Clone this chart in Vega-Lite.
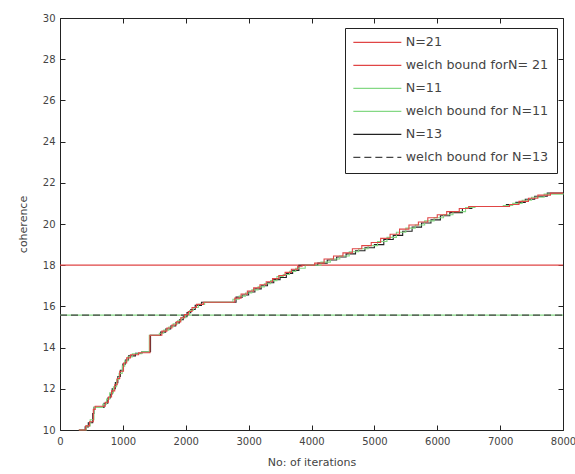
{
  "$schema": "https://vega.github.io/schema/vega-lite/v6.json",
  "width": 503,
  "height": 412,
  "autosize": "none",
  "padding": {"left": 60, "top": 18, "right": 12, "bottom": 44},
  "background": "white",
  "config": {
    "view": {"stroke": "#222", "strokeWidth": 1},
    "font": "DejaVu Sans",
    "axis": {"grid": false, "domain": false, "tickColor": "#222", "tickSize": -5, "labelColor": "#444", "labelFontSize": 10, "titleFontSize": 11, "titleFontWeight": "normal", "titleColor": "#444", "labelFont": "DejaVu Sans", "titleFont": "DejaVu Sans", "labelFlush": false, "labelOverlap": false}
  },
  "datasets": {
    "curves": [
      {"series": "N=13", "iter": 300, "value": 10.0},
      {"series": "N=13", "iter": 400, "value": 10.15},
      {"series": "N=13", "iter": 450, "value": 10.35},
      {"series": "N=13", "iter": 520, "value": 10.8},
      {"series": "N=13", "iter": 540, "value": 11.1},
      {"series": "N=13", "iter": 700, "value": 11.3},
      {"series": "N=13", "iter": 760, "value": 11.55},
      {"series": "N=13", "iter": 800, "value": 11.75},
      {"series": "N=13", "iter": 830, "value": 12.0},
      {"series": "N=13", "iter": 880, "value": 12.3},
      {"series": "N=13", "iter": 920, "value": 12.6},
      {"series": "N=13", "iter": 960, "value": 12.9},
      {"series": "N=13", "iter": 1000, "value": 13.2},
      {"series": "N=13", "iter": 1040, "value": 13.4},
      {"series": "N=13", "iter": 1090, "value": 13.6},
      {"series": "N=13", "iter": 1200, "value": 13.72},
      {"series": "N=13", "iter": 1300, "value": 13.8},
      {"series": "N=13", "iter": 1440, "value": 14.6},
      {"series": "N=13", "iter": 1600, "value": 14.75},
      {"series": "N=13", "iter": 1680, "value": 14.9},
      {"series": "N=13", "iter": 1760, "value": 15.05},
      {"series": "N=13", "iter": 1840, "value": 15.2},
      {"series": "N=13", "iter": 1900, "value": 15.35},
      {"series": "N=13", "iter": 1960, "value": 15.5},
      {"series": "N=13", "iter": 2020, "value": 15.7},
      {"series": "N=13", "iter": 2080, "value": 15.85},
      {"series": "N=13", "iter": 2150, "value": 16.05},
      {"series": "N=13", "iter": 2250, "value": 16.2},
      {"series": "N=13", "iter": 2800, "value": 16.45},
      {"series": "N=13", "iter": 2900, "value": 16.55},
      {"series": "N=13", "iter": 3000, "value": 16.7},
      {"series": "N=13", "iter": 3100, "value": 16.85},
      {"series": "N=13", "iter": 3200, "value": 17.0},
      {"series": "N=13", "iter": 3300, "value": 17.15},
      {"series": "N=13", "iter": 3400, "value": 17.3},
      {"series": "N=13", "iter": 3500, "value": 17.4},
      {"series": "N=13", "iter": 3600, "value": 17.6},
      {"series": "N=13", "iter": 3700, "value": 17.75},
      {"series": "N=13", "iter": 3800, "value": 18.0},
      {"series": "N=13", "iter": 4100, "value": 18.1},
      {"series": "N=13", "iter": 4250, "value": 18.25},
      {"series": "N=13", "iter": 4400, "value": 18.4},
      {"series": "N=13", "iter": 4550, "value": 18.55},
      {"series": "N=13", "iter": 4700, "value": 18.7},
      {"series": "N=13", "iter": 4850, "value": 18.85},
      {"series": "N=13", "iter": 5000, "value": 19.0},
      {"series": "N=13", "iter": 5150, "value": 19.25},
      {"series": "N=13", "iter": 5300, "value": 19.45},
      {"series": "N=13", "iter": 5450, "value": 19.65},
      {"series": "N=13", "iter": 5600, "value": 19.85},
      {"series": "N=13", "iter": 5750, "value": 20.05},
      {"series": "N=13", "iter": 5900, "value": 20.2},
      {"series": "N=13", "iter": 6050, "value": 20.4},
      {"series": "N=13", "iter": 6200, "value": 20.55},
      {"series": "N=13", "iter": 6400, "value": 20.75},
      {"series": "N=13", "iter": 6550, "value": 20.85},
      {"series": "N=13", "iter": 7100, "value": 20.95},
      {"series": "N=13", "iter": 7250, "value": 21.05},
      {"series": "N=13", "iter": 7400, "value": 21.2},
      {"series": "N=13", "iter": 7550, "value": 21.35},
      {"series": "N=13", "iter": 7750, "value": 21.5},
      {"series": "N=13", "iter": 8000, "value": 21.5},

      {"series": "N=11", "iter": 300, "value": 10.0},
      {"series": "N=11", "iter": 420, "value": 10.2},
      {"series": "N=11", "iter": 480, "value": 10.5},
      {"series": "N=11", "iter": 540, "value": 11.1},
      {"series": "N=11", "iter": 680, "value": 11.25},
      {"series": "N=11", "iter": 740, "value": 11.5},
      {"series": "N=11", "iter": 790, "value": 11.8},
      {"series": "N=11", "iter": 850, "value": 12.1},
      {"series": "N=11", "iter": 900, "value": 12.45},
      {"series": "N=11", "iter": 940, "value": 12.75},
      {"series": "N=11", "iter": 990, "value": 13.1},
      {"series": "N=11", "iter": 1030, "value": 13.35},
      {"series": "N=11", "iter": 1080, "value": 13.55},
      {"series": "N=11", "iter": 1150, "value": 13.7},
      {"series": "N=11", "iter": 1300, "value": 13.8},
      {"series": "N=11", "iter": 1420, "value": 14.6},
      {"series": "N=11", "iter": 1580, "value": 14.7},
      {"series": "N=11", "iter": 1650, "value": 14.85},
      {"series": "N=11", "iter": 1730, "value": 15.0},
      {"series": "N=11", "iter": 1800, "value": 15.15},
      {"series": "N=11", "iter": 1870, "value": 15.3},
      {"series": "N=11", "iter": 1930, "value": 15.45},
      {"series": "N=11", "iter": 2000, "value": 15.6},
      {"series": "N=11", "iter": 2060, "value": 15.8},
      {"series": "N=11", "iter": 2120, "value": 15.95},
      {"series": "N=11", "iter": 2200, "value": 16.1},
      {"series": "N=11", "iter": 2300, "value": 16.2},
      {"series": "N=11", "iter": 2750, "value": 16.35},
      {"series": "N=11", "iter": 2850, "value": 16.5},
      {"series": "N=11", "iter": 2950, "value": 16.65},
      {"series": "N=11", "iter": 3050, "value": 16.8},
      {"series": "N=11", "iter": 3150, "value": 16.95},
      {"series": "N=11", "iter": 3250, "value": 17.1},
      {"series": "N=11", "iter": 3350, "value": 17.25},
      {"series": "N=11", "iter": 3450, "value": 17.45},
      {"series": "N=11", "iter": 3550, "value": 17.55},
      {"series": "N=11", "iter": 3650, "value": 17.7},
      {"series": "N=11", "iter": 3750, "value": 17.85},
      {"series": "N=11", "iter": 3900, "value": 18.0},
      {"series": "N=11", "iter": 4150, "value": 18.15},
      {"series": "N=11", "iter": 4300, "value": 18.3},
      {"series": "N=11", "iter": 4450, "value": 18.45},
      {"series": "N=11", "iter": 4600, "value": 18.65},
      {"series": "N=11", "iter": 4750, "value": 18.8},
      {"series": "N=11", "iter": 4900, "value": 18.95},
      {"series": "N=11", "iter": 5050, "value": 19.15},
      {"series": "N=11", "iter": 5200, "value": 19.35},
      {"series": "N=11", "iter": 5350, "value": 19.6},
      {"series": "N=11", "iter": 5500, "value": 19.8},
      {"series": "N=11", "iter": 5650, "value": 19.95},
      {"series": "N=11", "iter": 5800, "value": 20.15},
      {"series": "N=11", "iter": 5950, "value": 20.3},
      {"series": "N=11", "iter": 6100, "value": 20.45},
      {"series": "N=11", "iter": 6250, "value": 20.6},
      {"series": "N=11", "iter": 6450, "value": 20.8},
      {"series": "N=11", "iter": 6600, "value": 20.85},
      {"series": "N=11", "iter": 7050, "value": 20.9},
      {"series": "N=11", "iter": 7200, "value": 21.0},
      {"series": "N=11", "iter": 7350, "value": 21.15},
      {"series": "N=11", "iter": 7500, "value": 21.3},
      {"series": "N=11", "iter": 7700, "value": 21.45},
      {"series": "N=11", "iter": 8000, "value": 21.5},

      {"series": "N=21", "iter": 300, "value": 10.0},
      {"series": "N=21", "iter": 410, "value": 10.2},
      {"series": "N=21", "iter": 470, "value": 10.4},
      {"series": "N=21", "iter": 530, "value": 11.0},
      {"series": "N=21", "iter": 560, "value": 11.15},
      {"series": "N=21", "iter": 720, "value": 11.35},
      {"series": "N=21", "iter": 770, "value": 11.6},
      {"series": "N=21", "iter": 820, "value": 11.9},
      {"series": "N=21", "iter": 870, "value": 12.2},
      {"series": "N=21", "iter": 910, "value": 12.5},
      {"series": "N=21", "iter": 950, "value": 12.85},
      {"series": "N=21", "iter": 1010, "value": 13.25},
      {"series": "N=21", "iter": 1060, "value": 13.5},
      {"series": "N=21", "iter": 1120, "value": 13.65},
      {"series": "N=21", "iter": 1250, "value": 13.75},
      {"series": "N=21", "iter": 1430, "value": 14.6},
      {"series": "N=21", "iter": 1620, "value": 14.8},
      {"series": "N=21", "iter": 1700, "value": 14.95},
      {"series": "N=21", "iter": 1780, "value": 15.1},
      {"series": "N=21", "iter": 1850, "value": 15.25},
      {"series": "N=21", "iter": 1920, "value": 15.45},
      {"series": "N=21", "iter": 1980, "value": 15.6},
      {"series": "N=21", "iter": 2040, "value": 15.75},
      {"series": "N=21", "iter": 2100, "value": 15.95},
      {"series": "N=21", "iter": 2170, "value": 16.1},
      {"series": "N=21", "iter": 2280, "value": 16.2},
      {"series": "N=21", "iter": 2780, "value": 16.4},
      {"series": "N=21", "iter": 2880, "value": 16.6},
      {"series": "N=21", "iter": 2980, "value": 16.75},
      {"series": "N=21", "iter": 3080, "value": 16.9},
      {"series": "N=21", "iter": 3180, "value": 17.05},
      {"series": "N=21", "iter": 3280, "value": 17.2},
      {"series": "N=21", "iter": 3380, "value": 17.35},
      {"series": "N=21", "iter": 3480, "value": 17.5},
      {"series": "N=21", "iter": 3580, "value": 17.65},
      {"series": "N=21", "iter": 3680, "value": 17.8},
      {"series": "N=21", "iter": 3780, "value": 17.95},
      {"series": "N=21", "iter": 3850, "value": 18.0},
      {"series": "N=21", "iter": 4050, "value": 18.1},
      {"series": "N=21", "iter": 4200, "value": 18.3},
      {"series": "N=21", "iter": 4350, "value": 18.45},
      {"series": "N=21", "iter": 4500, "value": 18.6},
      {"series": "N=21", "iter": 4650, "value": 18.8},
      {"series": "N=21", "iter": 4800, "value": 18.95},
      {"series": "N=21", "iter": 4950, "value": 19.1},
      {"series": "N=21", "iter": 5100, "value": 19.3},
      {"series": "N=21", "iter": 5250, "value": 19.5},
      {"series": "N=21", "iter": 5400, "value": 19.75},
      {"series": "N=21", "iter": 5550, "value": 19.95},
      {"series": "N=21", "iter": 5700, "value": 20.1},
      {"series": "N=21", "iter": 5850, "value": 20.3},
      {"series": "N=21", "iter": 6000, "value": 20.45},
      {"series": "N=21", "iter": 6150, "value": 20.6},
      {"series": "N=21", "iter": 6350, "value": 20.75},
      {"series": "N=21", "iter": 6500, "value": 20.85},
      {"series": "N=21", "iter": 7150, "value": 20.95},
      {"series": "N=21", "iter": 7300, "value": 21.1},
      {"series": "N=21", "iter": 7450, "value": 21.25},
      {"series": "N=21", "iter": 7600, "value": 21.4},
      {"series": "N=21", "iter": 7800, "value": 21.5},
      {"series": "N=21", "iter": 8000, "value": 21.5}
    ],
    "bounds": [
      {"series": "welch bound forN= 21", "value": 18.0},
      {"series": "welch bound for N=11", "value": 15.58},
      {"series": "welch bound for N=13", "value": 15.58}
    ]
  },
  "encoding": {
    "color": {
      "field": "series", "type": "nominal",
      "scale": {
        "domain": ["N=21", "welch bound forN= 21", "N=11", "welch bound for N=11", "N=13", "welch bound for N=13"],
        "range": ["#e04545", "#e04545", "#84d884", "#84d884", "#222222", "#444444"]
      },
      "legend": {
        "title": null, "orient": "none", "legendX": 285, "legendY": 10,
        "symbolType": "M-4.8,0H4.8", "symbolSize": 100, "symbolStrokeWidth": 1.3, "symbolOffset": 18,
        "labelFontSize": 12.7, "labelColor": "#444", "labelFont": "DejaVu Sans",
        "strokeColor": "#222", "fillColor": "white", "padding": 8, "rowPadding": 9, "labelOffset": 22, "labelLimit": 300
      }
    },
    "strokeDash": {
      "field": "series", "type": "nominal",
      "scale": {
        "domain": ["N=21", "welch bound forN= 21", "N=11", "welch bound for N=11", "N=13", "welch bound for N=13"],
        "range": [[1,0],[1,0],[1,0],[1,0],[1,0],[7,4]]
      },
      "legend": {
        "title": null, "orient": "none", "legendX": 285, "legendY": 10,
        "symbolType": "M-4.8,0H4.8", "symbolSize": 100, "symbolStrokeWidth": 1.3, "symbolOffset": 18,
        "labelFontSize": 12.7, "labelColor": "#444", "labelFont": "DejaVu Sans",
        "strokeColor": "#222", "fillColor": "white", "padding": 8, "rowPadding": 9, "labelOffset": 22, "labelLimit": 300
      }
    }
  },
  "resolve": {"axis": {"x": "independent", "y": "independent"}},
  "layer": [
    {
      "data": {"name": "bounds"},
      "mark": {"type": "rule", "strokeWidth": 1.2},
      "encoding": {
        "x": {"datum": 0, "type": "quantitative", "scale": {"domain": [0, 8000], "nice": false}, "axis": {"orient": "top", "values": [0,1000,2000,3000,4000,5000,6000,7000,8000], "labels": false, "title": null}},
        "x2": {"datum": 8000},
        "y": {"field": "value", "type": "quantitative", "scale": {"domain": [10, 30], "nice": false, "zero": false}, "axis": {"orient": "right", "values": [10,12,14,16,18,20,22,24,26,28,30], "labels": false, "title": null}}
      }
    },
    {
      "data": {"name": "curves"},
      "mark": {"type": "line", "interpolate": "step-after", "strokeWidth": 1.1},
      "encoding": {
        "x": {"field": "iter", "type": "quantitative", "scale": {"domain": [0, 8000], "nice": false}, "axis": {"orient": "bottom", "format": "d", "values": [0,1000,2000,3000,4000,5000,6000,7000,8000], "title": "No: of iterations", "titlePadding": 10, "labelPadding": 11}},
        "y": {"field": "value", "type": "quantitative", "scale": {"domain": [10, 30], "nice": false, "zero": false}, "axis": {"orient": "left", "values": [10,12,14,16,18,20,22,24,26,28,30], "title": "coherence", "titlePadding": 14, "labelPadding": 10}}
      }
    }
  ]
}
